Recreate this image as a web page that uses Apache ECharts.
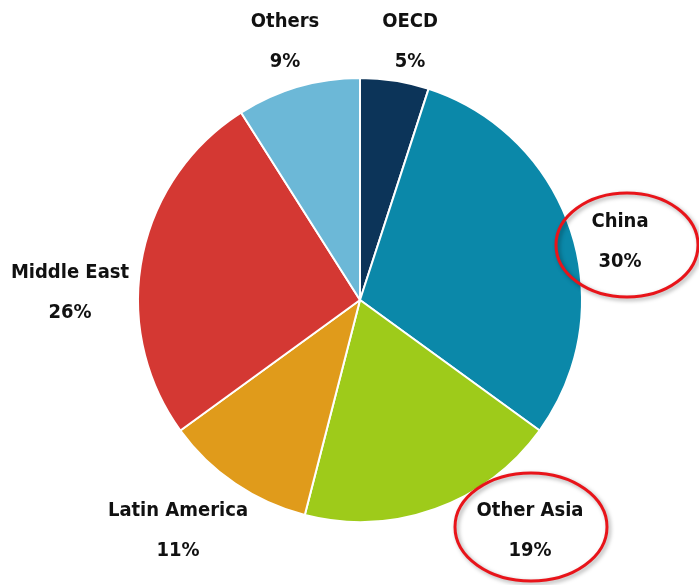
<!DOCTYPE html>
<html>
<head>
<meta charset="utf-8">
<script src="https://cdn.jsdelivr.net/npm/echarts@6/dist/echarts.min.js"></script>
<style>
  html, body { margin: 0; padding: 0; background: #fff; }
  #main { width: 699px; height: 585px; }
</style>
</head>
<body>
<div id="main"></div>
<script>
var regions = ['OECD', 'China', 'Other Asia', 'Latin America', 'Middle East', 'Others'];
var shares = [5, 30, 19, 11, 26, 9];
var colors = ['#0c3459', '#0b88a9', '#9ecb1a', '#e09b1b', '#d43833', '#6cb8d7'];

// where each label sits (centre of the two lines)
var labelPos = [[410, 42], [620, 242], [530, 531], [178, 531], [70, 293], [285, 42]];

var chart = echarts.init(document.getElementById('main'));

var option = {
  backgroundColor: '#fff',
  animation: false,
  series: [{
    type: 'pie',
    center: [360, 300],
    radius: 222,
    startAngle: 90,
    clockwise: true,
    data: regions.map(function (r, i) {
      return { name: r, value: shares[i], itemStyle: { color: colors[i] } };
    }),
    itemStyle: { borderColor: '#fff', borderWidth: 2 },
    label: {
      show: true,
      position: 'outside',
      formatter: '{b}\n{c}%',
      fontFamily: '"Liberation Sans Narrow", "DejaVu Sans Condensed", sans-serif',
      fontWeight: 'bold',
      fontSize: 20,
      lineHeight: 40,
      color: '#111',
      align: 'center',
      overflow: 'none',
      width: 200
    },
    labelLine: { show: false },
    labelLayout: function (p) {
      var pos = labelPos[p.dataIndex];
      return { x: pos[0], y: pos[1], align: 'center', verticalAlign: 'middle' };
    },
    emphasis: { disabled: true }
  }],
  graphic: [
    {
      type: 'ellipse',
      shape: { cx: 627, cy: 245, rx: 71, ry: 52 },
      style: { fill: 'none', stroke: '#e8141a', lineWidth: 3, shadowBlur: 4, shadowColor: 'rgba(0,0,0,0.35)', shadowOffsetX: 2, shadowOffsetY: 2 },
      z: 10
    },
    {
      type: 'ellipse',
      shape: { cx: 531, cy: 527, rx: 76, ry: 54 },
      style: { fill: 'none', stroke: '#e8141a', lineWidth: 3, shadowBlur: 4, shadowColor: 'rgba(0,0,0,0.35)', shadowOffsetX: 2, shadowOffsetY: 2 },
      z: 10
    }
  ]
};

chart.setOption(option);
</script>
</body>
</html>
